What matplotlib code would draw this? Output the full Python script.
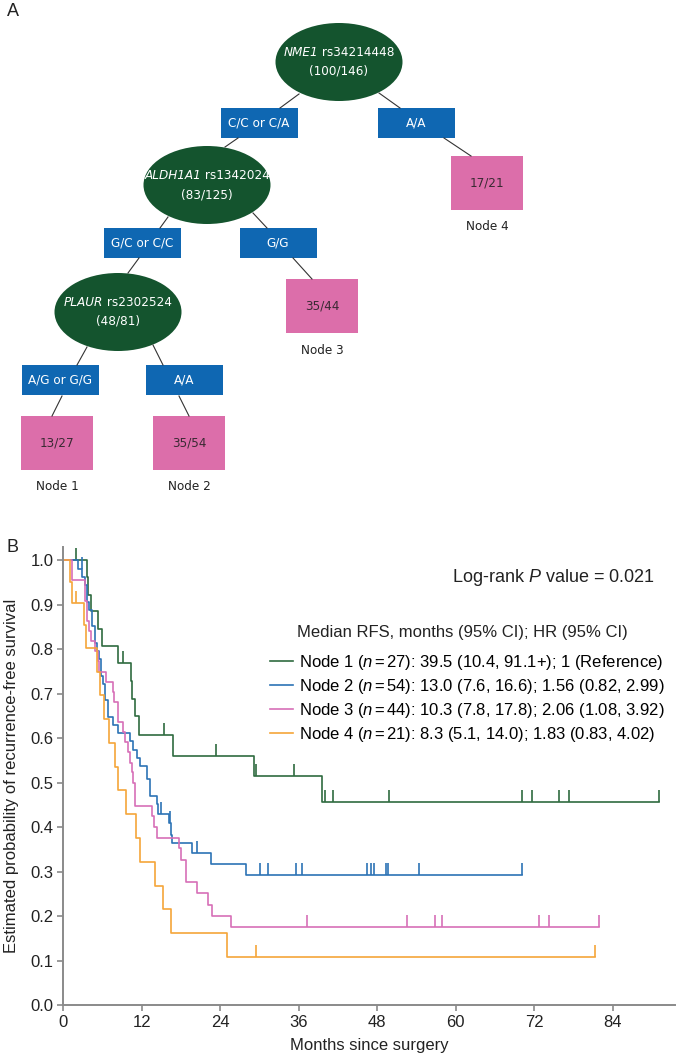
import os
import numpy as np
import matplotlib
matplotlib.use('Agg')
import matplotlib.pyplot as plt
from matplotlib.patches import Ellipse, Rectangle
from matplotlib.lines import Line2D
from matplotlib import font_manager
from matplotlib.font_manager import FontProperties

plt.rcParams['font.family'] = 'Liberation Sans'
plt.rcParams['mathtext.fontset'] = 'custom'
plt.rcParams['mathtext.rm'] = 'Liberation Sans'
plt.rcParams['mathtext.it'] = 'Liberation Sans:italic'
plt.rcParams['mathtext.sf'] = 'Liberation Sans:italic'


def find_font(keys):
    for k in keys:
        for f in font_manager.findSystemFonts():
            if os.path.basename(f).lower() == k:
                return f
    return None


narrow_reg = find_font(['liberationsansnarrow-regular.ttf', 'arialn.ttf', 'dejavusanscondensed.ttf',
                        'robotocondensed-regular.ttf', 'opensans_condensed-regular.ttf'])
narrow_it = find_font(['liberationsansnarrow-italic.ttf', 'arialni.ttf', 'dejavusanscondensed-oblique.ttf',
                       'robotocondensed-italic.ttf', 'opensans_condensed-italic.ttf'])
if narrow_reg and narrow_it:
    TREE_FP = FontProperties(fname=narrow_reg, size=9.6)
    TREE_FP_IT = FontProperties(fname=narrow_it, size=9.6)
else:
    TREE_FP = FontProperties(family='Liberation Sans', size=9.5)
    TREE_FP_IT = FontProperties(family='Liberation Sans', style='italic', size=9.5)

# ---------------- data ----------------
# panel A: survival tree
split_genes = ['NME1', 'ALDH1A1', 'PLAUR']
split_snps = ['rs34214448', 'rs1342024', 'rs2302524']
split_counts = ['100/146', '83/125', '48/81']
branch_labels = ['C/C or C/A', 'A/A', 'G/C or C/C', 'G/G', 'A/G or G/G', 'A/A']
leaf_counts = ['13/27', '35/54', '35/44', '17/21']
leaf_names = ['Node 1', 'Node 2', 'Node 3', 'Node 4']

# panel B: Kaplan-Meier steps (months, survival) and censor times
node1_t = [3.7, 3.8, 4.3, 5.35, 5.9, 8.4, 10.3, 10.5, 11.0, 11.6, 16.7, 29.2, 39.5]
node1_s = [0.962, 0.923, 0.885, 0.846, 0.808, 0.769, 0.729, 0.689, 0.649, 0.607, 0.561, 0.515, 0.457]
node1_c = [1.9, 9.2, 15.4, 23.4, 29.5, 35.3, 40.0, 41.3, 49.8, 70.2, 71.6, 75.8, 77.3, 91.1]

node2_t = [2.2, 2.9, 3.3, 3.7, 4.0, 4.4, 4.8, 5.1, 5.4, 5.7, 6.0, 6.4, 6.9, 7.6, 8.4, 10.2, 10.7,
           11.2, 11.7, 12.8, 13.3, 14.3, 14.5, 16.2, 16.4, 16.6, 19.7, 22.6, 27.9]
node2_s = [0.981, 0.963, 0.944, 0.907, 0.889, 0.852, 0.815, 0.796, 0.778, 0.741, 0.722, 0.685, 0.648,
           0.630, 0.611, 0.593, 0.574, 0.556, 0.537, 0.509, 0.471, 0.452, 0.429, 0.410, 0.382, 0.364,
           0.341, 0.316, 0.292]
node2_c = [2.8, 15.0, 16.3, 20.5, 30.1, 31.3, 35.6, 36.5, 46.4, 47.0, 47.5, 49.3, 49.6, 54.4, 70.2]

node3_t = [1.3, 3.3, 3.7, 4.0, 4.2, 4.85, 5.35, 5.45, 6.6, 7.65, 7.75, 8.3, 8.4, 9.2, 9.4, 9.9, 10.2,
           10.5, 10.7, 10.9, 11.0, 13.5, 13.8, 14.4, 17.7, 18.0, 18.7, 20.4, 22.2, 22.7, 25.7]
node3_s = [0.955, 0.909, 0.864, 0.841, 0.818, 0.795, 0.773, 0.750, 0.727, 0.705, 0.682, 0.659, 0.636,
           0.614, 0.591, 0.568, 0.545, 0.523, 0.500, 0.477, 0.448, 0.424, 0.401, 0.375, 0.352, 0.326,
           0.277, 0.251, 0.225, 0.200, 0.175]
node3_c = [37.2, 52.6, 56.8, 57.9, 72.8, 74.3, 81.9]

node4_t = [1.0, 1.4, 3.2, 3.5, 5.1, 5.6, 6.2, 7.0, 7.9, 8.4, 9.6, 11.1, 11.7, 14.0, 15.3, 16.4, 25.0]
node4_s = [0.952, 0.905, 0.855, 0.802, 0.750, 0.697, 0.643, 0.590, 0.536, 0.484, 0.429, 0.375,
           0.322, 0.268, 0.215, 0.161, 0.107]
node4_c = [2.0, 29.5, 81.3]

legend_labels = [
    r'Node 1 ($\mathsf{n}$$\,$=$\,$27): 39.5 (10.4, 91.1+); 1 (Reference)',
    r'Node 2 ($\mathsf{n}$$\,$=$\,$54): 13.0 (7.6, 16.6); 1.56 (0.82, 2.99)',
    r'Node 3 ($\mathsf{n}$$\,$=$\,$44): 10.3 (7.8, 17.8); 2.06 (1.08, 3.92)',
    r'Node 4 ($\mathsf{n}$$\,$=$\,$21): 8.3 (5.1, 14.0); 1.83 (0.83, 4.02)',
]
curve_colors = ['#2f6b40', '#2c73b5', '#d76fb7', '#f5a53a']

# ---------------- figure ----------------
W, H = 678, 1060
fig = plt.figure(figsize=(W / 100, H / 100), dpi=100)
renderer = fig.canvas.get_renderer()

# panel A drawn in pixel coordinates
axA = fig.add_axes([0, 0, 1, 1])
axA.set_xlim(0, W)
axA.set_ylim(H, 0)
axA.axis('off')

ELL_C = '#14542e'
BOX_C = '#0f67b2'
LEAF_C = '#dc6eaa'

split_xy = [(339, 62), (207, 185), (118, 312)]
branch_xy = [(259, 123), (416, 123), (142, 243), (278, 243), (60, 380), (184, 380)]
leaf_xy = [(57, 443), (189, 443), (322, 306), (487, 183)]
edges = [((299, 94), (280, 108)), ((379, 93), (400, 108)),
         ((238, 138), (225, 147)), ((444, 138), (471, 156)),
         ((168, 217), (160, 228)), ((253, 213), (267, 228)),
         ((139, 258), (128, 273)), ((293, 258), (312, 279)),
         ((87, 347), (77, 365)), ((153, 345), (163, 365)),
         ((62, 396), (52, 416)), ((179, 396), (189, 416))]

for (x0, y0), (x1, y1) in edges:
    axA.plot([x0, x1], [y0, y1], color='#333333', lw=0.8)

for (x, y), g, snp, cnt in zip(split_xy, split_genes, split_snps, split_counts):
    axA.add_patch(Ellipse((x, y), 127, 78, facecolor=ELL_C, edgecolor='none'))
    # italic gene name followed by upright SNP id, centred together
    t1 = axA.text(0, y - 9.5, g, color='white', fontproperties=TREE_FP_IT, ha='left', va='center')
    t2 = axA.text(0, y - 9.5, ' ' + snp, color='white', fontproperties=TREE_FP, ha='left', va='center')
    w1 = t1.get_window_extent(renderer).width
    w2 = t2.get_window_extent(renderer).width
    t1.set_x(x - (w1 + w2) / 2)
    t2.set_x(x - (w1 + w2) / 2 + w1)
    axA.text(x, y + 9.5, '(%s)' % cnt, color='white', fontproperties=TREE_FP,
             ha='center', va='center')

for (x, y), lab in zip(branch_xy, branch_labels):
    axA.add_patch(Rectangle((x - 38.5, y - 15), 77, 30, facecolor=BOX_C, edgecolor='none'))
    axA.text(x, y, lab, color='white', fontproperties=TREE_FP, ha='center', va='center')

for (x, y), cnt, nm in zip(leaf_xy, leaf_counts, leaf_names):
    axA.add_patch(Rectangle((x - 36, y - 27), 72, 54, facecolor=LEAF_C, edgecolor='none'))
    axA.text(x, y, cnt, color='#3a2a33', fontproperties=TREE_FP, ha='center', va='center')
    axA.text(x, y + 44, nm, color='#222222', fontproperties=TREE_FP, ha='center', va='center')

axA.text(13, 12, 'A', fontsize=13, ha='center', va='center', color='#222222')
axA.text(13, 548, 'B', fontsize=13, ha='center', va='center', color='#222222')

# panel B: Kaplan-Meier
x0p, x1p, y0p, y1p = 63.3, 674.8, 547, 1005
axB = fig.add_axes([x0p / W, 1 - y1p / H, (x1p - x0p) / W, (y1p - y0p) / H])
axB.patch.set_alpha(0)

series = [(node1_t, node1_s, node1_c), (node2_t, node2_s, node2_c),
          (node3_t, node3_s, node3_c), (node4_t, node4_s, node4_c)]
for (t, s, c), col in zip(series, curve_colors):
    tt = np.r_[0, t, max(c)]
    ss = np.r_[1.0, s, s[-1]]
    axB.step(tt, ss, where='post', color=col, lw=1.2)
    idx = np.searchsorted(tt, c, side='right') - 1
    sc = ss[idx]
    axB.vlines(c, sc, sc + 0.027, color=col, lw=1.2)

axB.set_xlim(0, 93.5)
axB.set_ylim(0, 1.03)
axB.set_xticks(np.arange(0, 85, 12))
axB.set_yticks(np.arange(0, 1.01, 0.1))
axB.set_yticklabels(['%.1f' % v for v in np.arange(0, 1.01, 0.1)])
for sp in ['top', 'right']:
    axB.spines[sp].set_visible(False)
for sp in ['left', 'bottom']:
    axB.spines[sp].set_color('#8a8a8a')
    axB.spines[sp].set_linewidth(1.4)
axB.tick_params(direction='out', length=4, width=1.2, color='#8a8a8a', labelsize=12,
                labelcolor='#222222', pad=3)
axB.set_xlabel('Months since surgery', fontsize=12, color='#222222', labelpad=6)
axB.set_ylabel('Estimated probability of recurrence-free survival', fontsize=12,
               color='#222222', labelpad=8)

handles = [Line2D([], [], color=c, lw=1.2) for c in curve_colors]
axB.legend(handles, legend_labels, loc='upper left', bbox_to_anchor=(270 / W, 1 - 653 / H),
           bbox_transform=fig.transFigure, frameon=False, fontsize=12, handlelength=1.35,
           handletextpad=0.4, labelspacing=0.3, borderpad=0, borderaxespad=0)
fig.text(297 / W, 1 - 632 / H, 'Median RFS, months (95% CI); HR (95% CI)', fontsize=12,
         color='#222222', ha='left', va='center')
fig.text(655 / W, 1 - 578 / H, r'Log-rank $\mathsf{P}$ value = 0.021', fontsize=13,
         color='#222222', ha='right', va='center')

fig.savefig('out.png', dpi=100)
